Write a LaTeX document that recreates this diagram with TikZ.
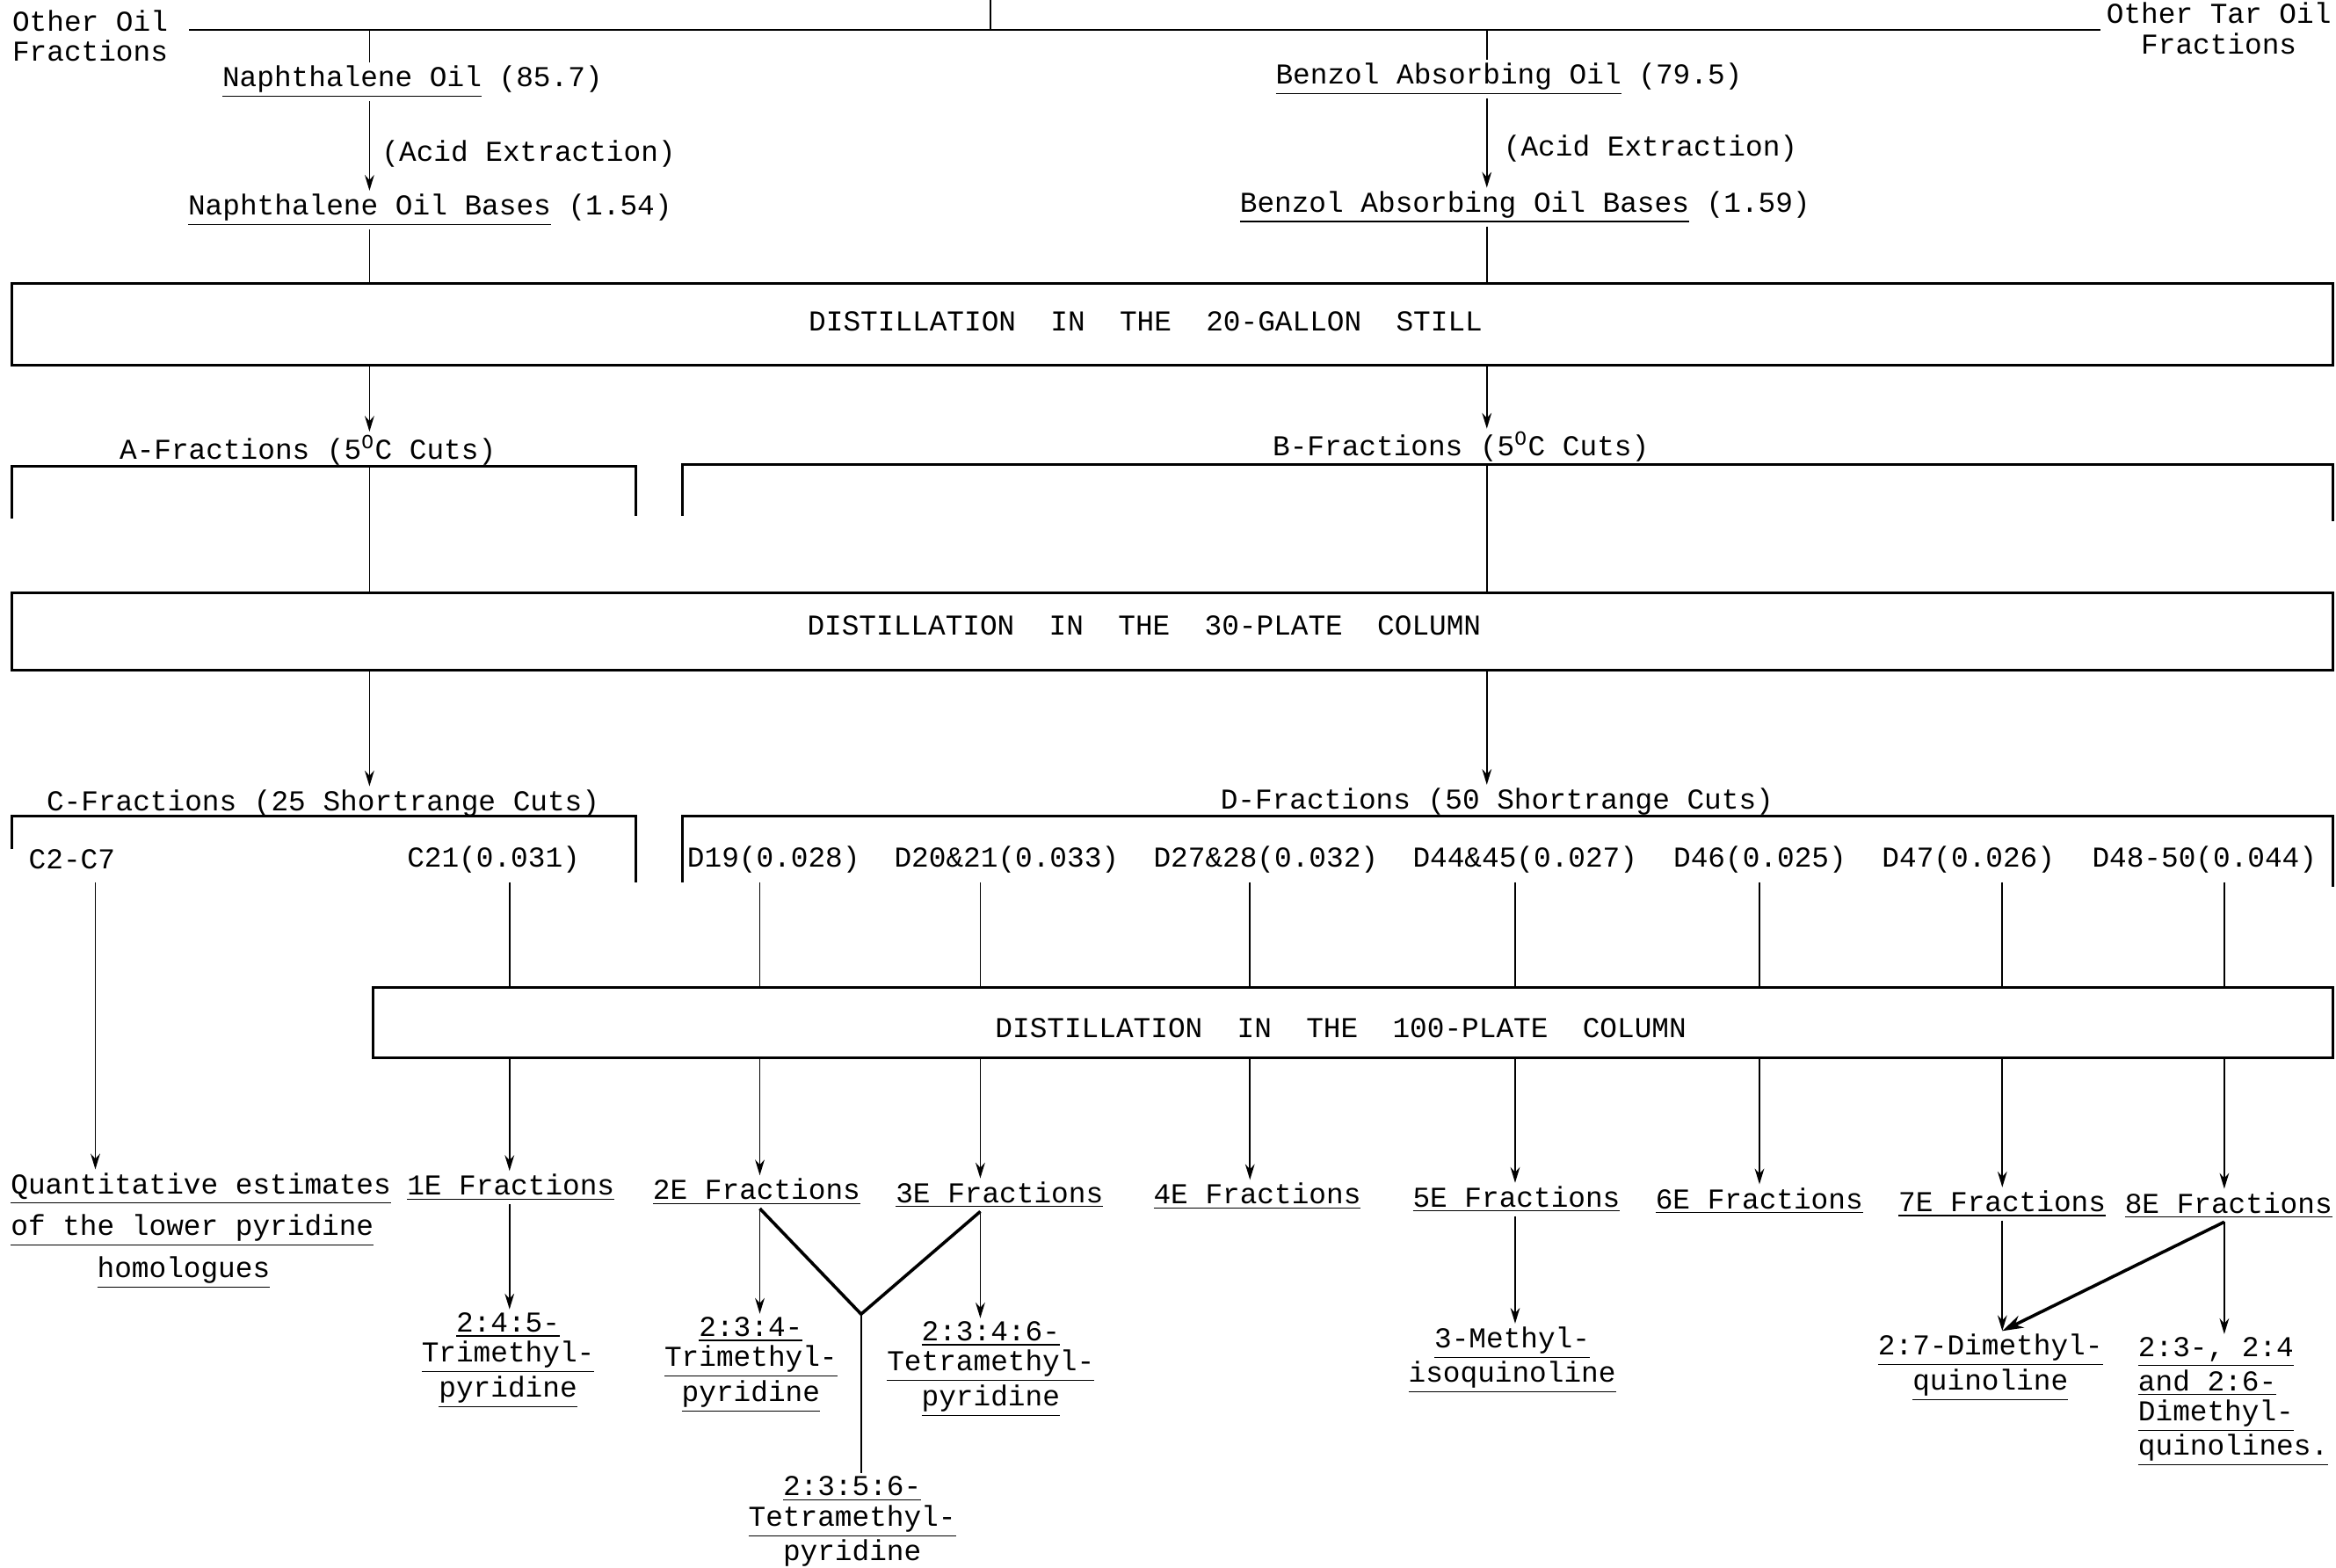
\documentclass[tikz,border=0pt]{standalone}
\usepackage{fontspec}
\setmainfont{Liberation Mono}
\usepackage{tikz}
\usetikzlibrary{arrows.meta, positioning}

\begin{document}
\begin{tikzpicture}[x=0.02cm, y=-0.02cm, line width=0.6pt,
    every node/.style={font=\fontsize{11}{11.5}\selectfont, inner sep=1pt},
    txt/.style={anchor=west},
    stack/.style={align=center},
    stillbox/.style={draw, line width=1pt, inner sep=0pt},
    arr/.style={-{Stealth[length=6pt,width=3.6pt]}},
    heavy/.style={line width=1.2pt},
    bracket/.style={line width=1pt}]
\useasboundingbox (0,0) rectangle (1568,1052);

\node[txt, align=left] (oof) at (6,24) {Other Oil\\Fractions};
\node[anchor=east, align=center] (otf) at (1567,19) {Other Tar Oil\\Fractions};
\coordinate (top) at (665,0);
\coordinate (tj) at (665,20);
\coordinate (hl) at (127,20);
\coordinate (hr) at (1410,20);
\coordinate (ta) at (248,20);
\coordinate (tb) at (998,20);
\draw (top) -- (tj);
\draw (hl) -- (hr);

\node[txt] (nap) at (147,55) {\underline{Naphthalene Oil} (85.7)};
\node[txt] (napb) at (124,141) {\underline{Naphthalene Oil Bases} (1.54)};
\node[txt] (bao) at (854,53) {\underline{Benzol Absorbing Oil} (79.5)};
\node[txt] (baob) at (830,139) {\underline{Benzol Absorbing Oil Bases} (1.59)};
\node[txt] (acid1) at (254,103) {(Acid Extraction)};
\node[txt] (acid2) at (1007,100) {(Acid Extraction)};
\draw (ta) -- (ta |- nap.north);
\draw (tb) -- (tb |- bao.north);
\draw[arr] (ta |- nap.south) -- (ta |- napb.north);
\draw[arr] (tb |- bao.south) -- (tb |- baob.north);

\node[stillbox, minimum width=31.16cm, minimum height=1.1cm] (st20) at (787,217.5) {};
\node (st20t) at (769,216) {DISTILLATION\ \ IN\ \ THE\ \ 20-GALLON\ \ STILL};
\draw (ta |- napb.south) -- (ta |- st20.north);
\draw (tb |- baob.south) -- (tb |- st20.north);

\node[txt] (afr) at (78,302) {A-Fractions (5\textsuperscript{O}C Cuts)};
\node[txt] (bfr) at (852,300) {B-Fractions (5\textsuperscript{O}C Cuts)};
\draw[arr] (ta |- st20.south) -- (ta |- afr.north);
\draw[arr] (tb |- st20.south) -- (tb |- bfr.north);
\coordinate (abr) at (248,313);
\coordinate (bbr) at (998,312);
\draw[bracket] (8,348) -- (8,313) -- (427,313) -- (427,346);
\draw[bracket] (458,346) -- (458,312) -- (1566,312) -- (1566,350);

\node[stillbox, minimum width=31.16cm, minimum height=1.04cm] (st30) at (787,424) {};
\node (st30t) at (768,420) {DISTILLATION\ \ IN\ \ THE\ \ 30-PLATE\ \ COLUMN};
\draw (abr) -- (abr |- st30.north);
\draw (bbr) -- (bbr |- st30.north);

\node[txt] (cfr) at (29,539) {C-Fractions (25 Shortrange Cuts)};
\node[txt] (dfr) at (817,538) {D-Fractions (50 Shortrange Cuts)};
\draw[arr] (abr |- st30.south) -- (abr |- cfr.north);
\draw[arr] (bbr |- st30.south) -- (bbr |- dfr.north);
\draw[bracket] (8,570) -- (8,548) -- (427,548) -- (427,592);
\draw[bracket] (458,592) -- (458,548) -- (1566,548) -- (1566,595);

\node[txt] (c27) at (17,577) {C2-C7};
\node[txt] (c21) at (271,577) {C21(0.031)};
\node[txt] (d19) at (459,577) {D19(0.028)};
\node[txt] (d20) at (598,577) {D20\&21(0.033)};
\node[txt] (d27) at (772,577) {D27\&28(0.032)};
\node[txt] (d44) at (946,577) {D44\&45(0.027)};
\node[txt] (d46) at (1121,577) {D46(0.025)};
\node[txt] (d47) at (1261,577) {D47(0.026)};
\node[txt] (d48) at (1402,577) {D48-50(0.044)};
\coordinate (k0) at (64,592);
\coordinate (k1) at (342,592);
\coordinate (k2) at (510,592);
\coordinate (k3) at (658,592);
\coordinate (k4) at (839,592);
\coordinate (k5) at (1017,592);
\coordinate (k6) at (1181,592);
\coordinate (k7) at (1344,592);
\coordinate (k8) at (1493,592);

\node[stillbox, minimum width=26.32cm, minimum height=0.94cm] (st100) at (908,686.5) {};
\node (st100t) at (900,690) {DISTILLATION\ \ IN\ \ THE\ \ 100-PLATE\ \ COLUMN};
\draw (k1) -- (k1 |- st100.north);
\draw (k2) -- (k2 |- st100.north);
\draw (k3) -- (k3 |- st100.north);
\draw (k4) -- (k4 |- st100.north);
\draw (k5) -- (k5 |- st100.north);
\draw (k6) -- (k6 |- st100.north);
\draw (k7) -- (k7 |- st100.north);
\draw (k8) -- (k8 |- st100.north);

\node[txt, align=left, font=\fontsize{11}{16}\selectfont] (q) at (5,826)
    {\underline{Quantitative estimates}\\\underline{of the lower pyridine}\\\hspace*{3em}\underline{homologues}};
\node[txt] (e1) at (271,797) {\underline{1E Fractions}};
\node[txt] (e2) at (436,800) {\underline{2E Fractions}};
\node[txt] (e3) at (599,802) {\underline{3E Fractions}};
\node[txt] (e4) at (772,803) {\underline{4E Fractions}};
\node[txt] (e5) at (946,805) {\underline{5E Fractions}};
\node[txt] (e6) at (1109,806) {\underline{6E Fractions}};
\node[txt] (e7) at (1272,808) {\underline{7E Fractions}};
\node[txt] (e8) at (1424,809) {\underline{8E Fractions}};
\draw[arr] (k0) -- (k0 |- q.north);
\draw[arr] (k1 |- st100.south) -- (k1 |- e1.north);
\draw[arr] (k2 |- st100.south) -- (k2 |- e2.north);
\draw[arr] (k3 |- st100.south) -- (k3 |- e3.north);
\draw[arr] (k4 |- st100.south) -- (k4 |- e4.north);
\draw[arr] (k5 |- st100.south) -- (k5 |- e5.north);
\draw[arr] (k6 |- st100.south) -- (k6 |- e6.north);
\draw[arr] (k7 |- st100.south) -- (k7 |- e7.north);
\draw[arr] (k8 |- st100.south) -- (k8 |- e8.north);

\node[stack] (p1) at (341,913) {\underline{2:4:5-}\\\underline{Trimethyl-}\\\underline{pyridine}};
\node[stack] (p2) at (504,916) {\underline{2:3:4-}\\\underline{Trimethyl-}\\\underline{pyridine}};
\node[stack] (p3) at (665,919) {\underline{2:3:4:6-}\\\underline{Tetramethyl-}\\\underline{pyridine}};
\node[stack] (p4) at (572,1023) {\underline{2:3:5:6-}\\\underline{Tetramethyl-}\\\underline{pyridine}};
\node[stack] (p5) at (1015,913) {\underline{3-Methyl-}\\\underline{isoquinoline}};
\node[stack] (p6) at (1336,918) {\underline{2:7-Dimethyl-}\\\underline{quinoline}};
\node[align=left] (p7) at (1499,941) {\underline{2:3-, 2:4}\\\underline{and 2:6-}\\\underline{Dimethyl-}\\\underline{quinolines.}};
\coordinate (vee) at (578,882);
\draw[arr] (k1 |- e1.south) -- (k1 |- p1.north);
\draw[arr] (k2 |- e2.south) -- (k2 |- p2.north);
\draw[arr] (k3 |- e3.south) -- (k3 |- p3.north);
\draw[heavy] (k2 |- e2.south) -- (vee) -- (k3 |- e3.south);
\draw (vee) -- (vee |- p4.north);
\draw[arr] (k5 |- e5.south) -- (k5 |- p5.north);
\draw[arr] (k7 |- e7.south) -- (k7 |- p6.north);
\draw[arr] (k8 |- e8.south) -- (k8 |- p7.north);
\draw[heavy, -{Stealth[length=8pt,width=5pt]}] (k8 |- e8.south) -- (k7 |- p6.north);
    \end{tikzpicture}
\end{document}
